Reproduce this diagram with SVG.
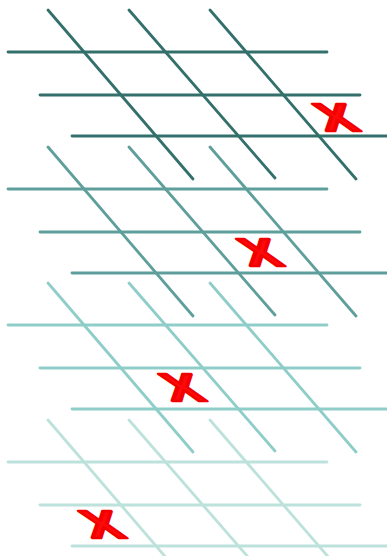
<svg xmlns="http://www.w3.org/2000/svg" width="387" height="556" viewBox="0 0 387 556">
  <defs>
    <style>
      .ln { stroke-width: 2.8; stroke-linecap: round; fill: none; }
      .g1 { stroke: #33706c; }
      .g2 { stroke: #5e9f9b; }
      .g3 { stroke: #8fcdc9; }
      .g4 { stroke: #bde2db; }
      .mark { font-family: "Liberation Sans", Arial, sans-serif; font-weight: bold; font-size: 39px; fill: #ff0a0a; stroke: #f20000; stroke-width: 2.6; stroke-linejoin: round; }
    </style>
    <g id="grid">
      <line x1="8" y1="0" x2="327" y2="0"/>
      <line x1="40" y1="43" x2="360" y2="43"/>
      <line x1="72" y1="84" x2="387" y2="84"/>
      <line x1="48" y1="-42" x2="193" y2="127"/>
      <line x1="129" y1="-42" x2="275" y2="126"/>
      <line x1="210" y1="-42" x2="356" y2="127"/>
    </g>
  </defs>
  <rect width="387" height="556" fill="#ffffff"/>
  <g id="grid4" class="ln g4" transform="translate(0,462)"><use href="#grid"/></g>
  <g id="grid3" class="ln g3" transform="translate(0,325)"><use href="#grid"/></g>
  <g id="grid2" class="ln g2" transform="translate(0,189)"><use href="#grid"/></g>
  <g id="grid1" class="ln g1" transform="translate(0,52)"><use href="#grid"/></g>
  <g id="marks" class="mark">
    <text transform="matrix(1.36 0 0.55 1 326 131)">X</text>
    <text transform="matrix(1.36 0 0.55 1 250 266)">X</text>
    <text transform="matrix(1.36 0 0.55 1 172 401)">X</text>
    <text transform="matrix(1.36 0 0.55 1 92 538)">X</text>
  </g>
</svg>
